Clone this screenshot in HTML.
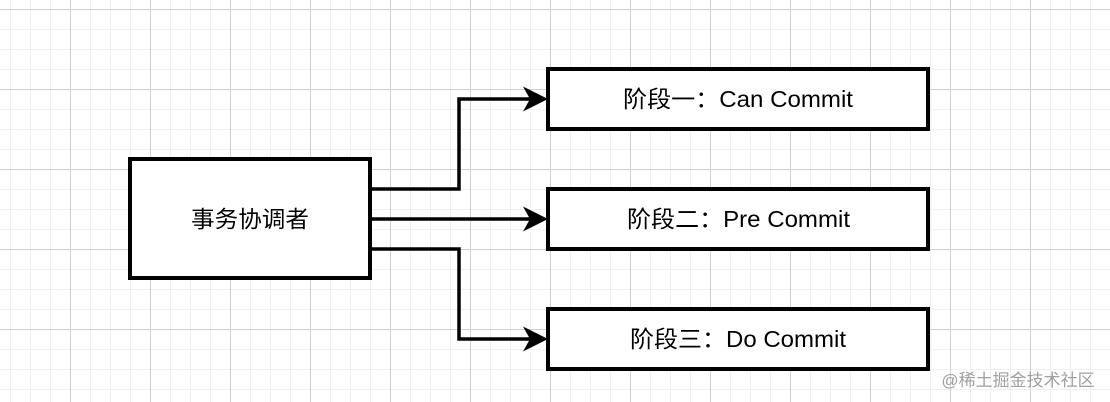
<!DOCTYPE html>
<html><head><meta charset="utf-8"><style>
html,body{margin:0;padding:0;background:#fff;}
svg{display:block}
text{font-family:"Liberation Sans","Noto Sans CJK SC",sans-serif;}
</style></head><body>
<svg width="1110" height="402" viewBox="0 0 1110 402" xmlns="http://www.w3.org/2000/svg">
<defs>
<pattern id="minor" x="10" y="9" width="20" height="20" patternUnits="userSpaceOnUse">
<path d="M0.5 0V20M0 0.5H20" stroke="#f0f0f0" stroke-width="1" fill="none"/>
</pattern>
<pattern id="major" x="70" y="9" width="80" height="80" patternUnits="userSpaceOnUse">
<path d="M0.5 0V80M0 0.5H80" stroke="#d0d0d0" stroke-width="1" fill="none"/>
</pattern>
</defs>
<rect width="1110" height="402" fill="#fff"/>
<rect width="1110" height="402" fill="url(#minor)"/>
<rect width="1110" height="402" fill="url(#major)"/>

<g stroke="#000" stroke-width="4" fill="#fff">
<rect x="130" y="159" width="240" height="119"/>
<rect x="548" y="69" width="380" height="60"/>
<rect x="548" y="189" width="380" height="60"/>
<rect x="548" y="309" width="380" height="60"/>
</g>
<g stroke="#000" stroke-width="3.5" fill="none">
<polyline points="371,189 459,189 459,99 530,99"/>
<polyline points="371,219 530,219"/>
<polyline points="371,249 459,249 459,339 530,339"/>
</g>
<g fill="#000">
<path d="M548,99 L523,86.5 L530,99 L523,111.5 Z"/>
<path d="M548,219 L523,206.5 L530,219 L523,231.5 Z"/>
<path d="M548,339 L523,326.5 L530,339 L523,351.5 Z"/>
</g>
<g font-size="23" fill="#000">
<text x="191" y="227" textLength="118" lengthAdjust="spacingAndGlyphs">事务协调者</text>
<text x="623" y="107" textLength="230" lengthAdjust="spacingAndGlyphs">阶段一：Can Commit</text>
<text x="627" y="227" textLength="223" lengthAdjust="spacingAndGlyphs">阶段二：Pre Commit</text>
<text x="630" y="347" textLength="216" lengthAdjust="spacingAndGlyphs">阶段三：Do Commit</text>
</g>
<text x="1018" y="386" font-size="17" fill="#a0a0a0" text-anchor="middle">@稀土掘金技术社区</text>
</svg>
</body></html>
